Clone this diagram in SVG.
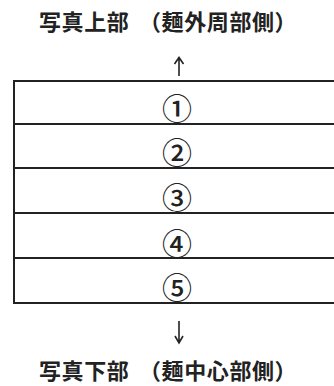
<svg xmlns="http://www.w3.org/2000/svg" width="334" height="386" viewBox="0 0 334 386">
<style>
.t{font-family:"Noto Sans CJK JP","Noto Sans CJK SC",sans-serif;font-weight:700;font-size:22px;fill:#222;letter-spacing:0.6px}
.n{font-family:"Noto Sans CJK JP","Noto Sans CJK SC",sans-serif;font-weight:500;font-size:30px;fill:#222;text-anchor:middle}
.ln{stroke:#222;stroke-width:2;fill:none}
.ar{stroke:#222;stroke-width:1.6;fill:none}
</style>
<rect width="334" height="386" fill="#fff"/>
<g id="title-top"><text class="t" y="30"><tspan x="39">写真上部</tspan><tspan x="139">（麺外周部側）</tspan></text></g>
<g id="connectors">
<path class="ar" d="M179,58 V76 M174.5,64 L179,57.5 L183.5,64"/>
<path class="ar" d="M179,321 V343 M175,336 L179,343 L183,336"/>
</g>
<g id="table">
<path class="ln" d="M14,81 H334 M14,124 H334 M14,168 H334 M14,213 H334 M14,258 H334 M14,303 H334 M14,80 V304"/>
</g>
<g id="row1"><text class="n" x="177" y="120">①</text></g>
<g id="row2"><text class="n" x="177" y="164">②</text></g>
<g id="row3"><text class="n" x="177" y="209">③</text></g>
<g id="row4"><text class="n" x="177" y="255">④</text></g>
<g id="row5"><text class="n" x="177" y="299">⑤</text></g>
<g id="title-bottom"><text class="t" y="379"><tspan x="39">写真下部</tspan><tspan x="139">（麺中心部側）</tspan></text></g>
</svg>
